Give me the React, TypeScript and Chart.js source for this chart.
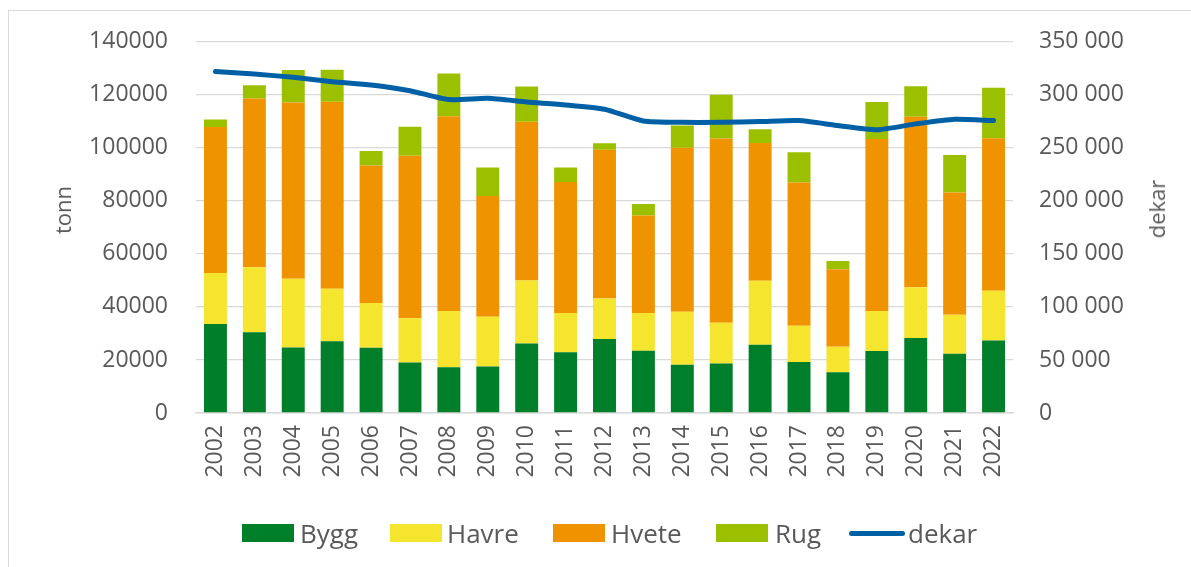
import React, { useEffect, useRef } from "react";
import { Chart, registerables } from "chart.js";

Chart.register(...registerables);

const years = ["2002","2003","2004","2005","2006","2007","2008","2009","2010","2011","2012","2013","2014","2015","2016","2017","2018","2019","2020","2021","2022"];
const bygg = [33600,30500,24700,27100,24600,19000,17300,17500,26200,22900,27900,23500,18200,18700,25700,19200,15400,23400,28300,22300,27300];
const havre = [19200,24500,25900,19800,16900,16700,21200,18800,23800,14800,15300,14200,20000,15300,24200,13700,9600,15100,19100,14800,18800];
const hvete = [55100,63600,66500,70500,51800,61300,73400,45500,59800,49400,56100,36800,61800,69500,51900,54000,29200,64800,64300,46100,57500];
const rug = [2800,5000,12300,12100,5500,11000,16100,10800,13300,5500,2400,4300,8400,16500,5200,11400,3100,14000,11500,14100,19100];
const dekar = [322100,319600,316500,312400,309300,303900,295500,296700,293300,290500,286400,275400,274100,274100,274800,275700,271000,267000,272600,277000,275700];

const COLORS = {
  bygg: "#007F2A",
  havre: "#F5E52F",
  hvete: "#F09300",
  rug: "#9BC000",
  dekar: "#0060A6",
};

const FONT = "'Open Sans', sans-serif";
const TEXT = "#595959";

const legendItems = [
  { label: "Bygg", color: COLORS.bygg, x: 242, tx: 300, line: false },
  { label: "Havre", color: COLORS.havre, x: 390, tx: 447, line: false },
  { label: "Hvete", color: COLORS.hvete, x: 553, tx: 611, line: false },
  { label: "Rug", color: COLORS.rug, x: 716, tx: 775, line: false },
  { label: "dekar", color: COLORS.dekar, x: 849, tx: 908, line: true },
];

export default function App() {
  const ref = useRef<HTMLCanvasElement | null>(null);

  useEffect(() => {
    if (!ref.current) return;
    const chart = new Chart(ref.current, {
      type: "bar",
      data: {
        labels: years,
        datasets: [
          { type: "line", label: "dekar", data: dekar, yAxisID: "y1", borderColor: COLORS.dekar, backgroundColor: COLORS.dekar, borderWidth: 5, pointRadius: 0, tension: 0.2, borderCapStyle: "round", borderJoinStyle: "round", order: 0 } as any,
          { label: "Bygg", data: bygg, backgroundColor: COLORS.bygg, yAxisID: "y", order: 1 },
          { label: "Havre", data: havre, backgroundColor: COLORS.havre, yAxisID: "y", order: 1 },
          { label: "Hvete", data: hvete, backgroundColor: COLORS.hvete, yAxisID: "y", order: 1 },
          { label: "Rug", data: rug, backgroundColor: COLORS.rug, yAxisID: "y", order: 1 },
        ],
      },
      options: {
        responsive: false,
        animation: false,
        devicePixelRatio: 1,
        datasets: { bar: { barPercentage: 0.59, categoryPercentage: 1 } },
        layout: { padding: { top: 41, left: 0, right: 0, bottom: 0 } },
        plugins: { legend: { display: false }, tooltip: { enabled: false } },
        scales: {
          x: {
            stacked: true,
            grid: { display: false, drawTicks: false },
            border: { display: true, color: "#d9d9d9", width: 1.5 },
            ticks: { color: TEXT, font: { family: FONT, size: 23 }, minRotation: 90, maxRotation: 90, padding: 12, autoSkip: false },
            afterFit: (s: any) => { s.height = 154; },
          },
          y: {
            stacked: true,
            position: "left",
            min: 0,
            max: 140000,
            grid: { color: "#d9d9d9", lineWidth: 1.3, drawTicks: false },
            border: { display: false },
            ticks: { stepSize: 20000, color: TEXT, font: { family: FONT, size: 23 }, padding: 28, callback: (v: any) => String(v) },
            afterFit: (s: any) => { s.width = 196; },
          },
          y1: {
            position: "right",
            min: 0,
            max: 350000,
            grid: { drawOnChartArea: false, drawTicks: false },
            border: { display: false },
            ticks: {
              stepSize: 50000, color: TEXT, font: { family: FONT, size: 23 }, padding: 26,
              callback: (v: any) => String(v).replace(/\B(?=(\d{3})+(?!\d))/g, " "),
            },
            afterFit: (s: any) => { s.width = 178; },
          },
        },
      },
    });
    return () => chart.destroy();
  }, []);

  return (
    <div style={{ position: "fixed", left: 0, top: 0, width: 1191, height: 567, background: "#fff", overflow: "hidden", fontFamily: FONT }}>
      <div style={{ position: "absolute", left: 8, top: 10, width: 1300, height: 700, borderLeft: "1px solid #d9d9d9", borderTop: "1px solid #d9d9d9" }} />
      <canvas ref={ref} width={1191} height={567} style={{ position: "absolute", left: 0, top: 0, width: 1191, height: 567 }} />
      <div style={{ position: "absolute", left: 62, top: 210, transform: "translate(-50%, -50%) rotate(-90deg)", color: TEXT, fontSize: 22, whiteSpace: "nowrap", lineHeight: 1 }}>tonn</div>
      <div style={{ position: "absolute", left: 1156, top: 209, transform: "translate(-50%, -50%) rotate(-90deg)", color: TEXT, fontSize: 22, whiteSpace: "nowrap", lineHeight: 1 }}>dekar</div>
      {legendItems.map((it) => (
        <React.Fragment key={it.label}>
          {it.line ? (
            <div style={{ position: "absolute", left: it.x, top: 530.5, width: 56, height: 5, borderRadius: 3, background: it.color }} />
          ) : (
            <div style={{ position: "absolute", left: it.x, top: 524, width: 52, height: 18, background: it.color }} />
          )}
          <div style={{ position: "absolute", left: it.tx, top: 533, transform: "translateY(-50%)", color: TEXT, fontSize: 26, lineHeight: 1, whiteSpace: "nowrap" }}>{it.label}</div>
        </React.Fragment>
      ))}
    </div>
  );
}
